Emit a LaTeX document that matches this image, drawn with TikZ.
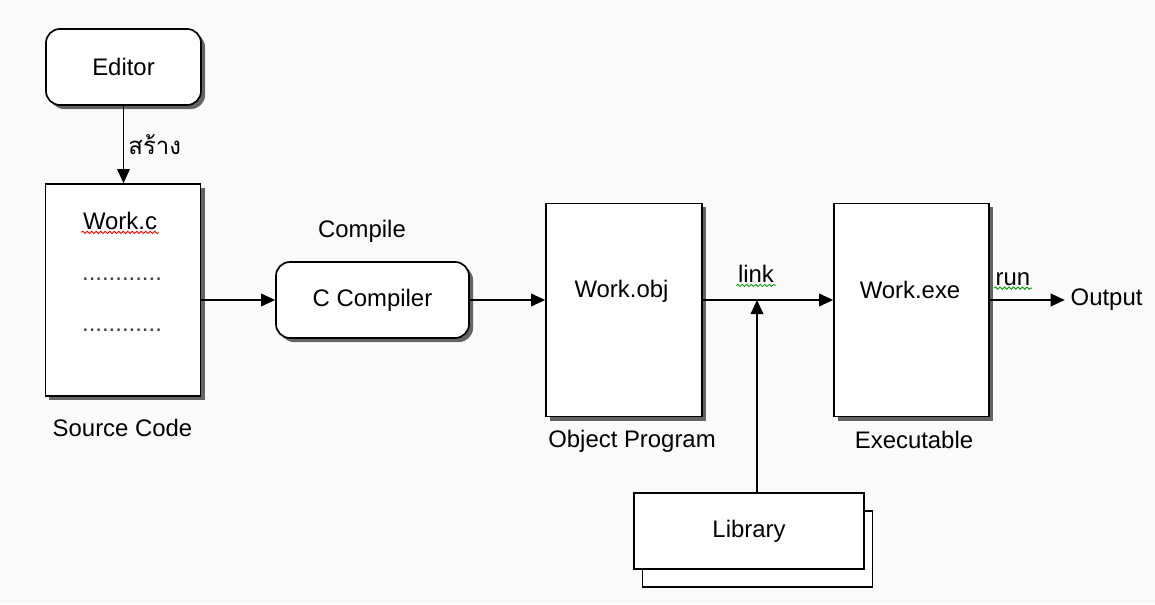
\documentclass[tikz,border=0pt]{standalone}
\usepackage{fontspec}
\setmainfont{Liberation Sans}
\newfontfamily\thaifont[Script=Thai]{Loma}
\usetikzlibrary{positioning,shadows,arrows.meta,decorations.pathmorphing}

\tikzset{
    box/.style={draw, line width=1.2pt, fill=white,
        drop shadow={shadow xshift=0.1cm, shadow yshift=-0.1cm, fill=black!80, opacity=0.75}},
    roundbox/.style={box, rounded corners=0.35cm},
    flatbox/.style={draw, line width=1.2pt, fill=white, minimum width=5.75cm, minimum height=1.9cm},
    lbl/.style={font=\fontsize{17}{20}\selectfont, inner sep=1pt},
    arr/.style={line width=1pt, -{Triangle[length=10pt,width=9pt]}},
    spell/.style={decorate, decoration={snake, amplitude=0.8pt, segment length=3.2pt}, line width=0.6pt},
}

\begin{document}
\begin{tikzpicture}[x=0.025cm, y=-0.025cm]

    %% Compile and link

    \fill[gray!4] (0,0) rectangle (1155,604);
    \useasboundingbox (0,0) rectangle (1155,604);

    % Editor
    \node[roundbox, lbl, minimum width=3.875cm, minimum height=1.9cm] (editor) at (123.5,67) {Editor};

    % Source code
    \node[box, minimum width=3.875cm, minimum height=5.3cm] (src) at (123,290) {};
    \node[lbl] (workc) at (120,221) {Work.c};
    \node[lbl, text=black!75] (dotsa) at (122,279) {............};
    \node[lbl, text=black!75] (dotsb) at (122,330) {............};
    \node[lbl] (srclbl) at (122.5,428) {Source Code};
    \draw[arr] (editor.south) -- (editor.south |- src.north)
        node[midway, right=2pt, lbl] (make) {\thaifont สร้าง};

    % Compiler
    \node[roundbox, lbl, minimum width=4.825cm, minimum height=1.9cm] (comp) at (372.5,300) {C Compiler};
    \node[lbl] (complbl) at (362,231) {Compile};

    % Object program
    \node[box, minimum width=3.9cm, minimum height=5.325cm] (obj) at (624,310) {};
    \node[lbl] (workobj) at (621.5,291) {Work.obj};
    \node[lbl] (objlbl) at (632,441) {Object Program};

    % Executable
    \node[box, minimum width=3.875cm, minimum height=5.325cm] (exe) at (911.5,310) {};
    \node[lbl] (workexe) at (910,290) {Work.exe};
    \node[lbl] (exelbl) at (914,440) {Executable};

    % Library
    \node[flatbox] (libback) at (757.5,549) {};
    \node[flatbox, lbl, inner sep=0pt] (lib) at (749,531) {Library};

    % Output
    \node[lbl, anchor=west] (out) at (1069,300) {Output};

    % Connectors
    \coordinate (linkpt) at (757,300);
    \draw[arr] (src.east |- comp) -- (comp.west);
    \draw[arr] (comp.east) -- (comp.east -| obj.west);
    \draw[arr] (obj.east |- linkpt) -- (exe.west |- linkpt);
    \draw[arr] (lib.north -| linkpt) -- (linkpt);
    \draw[arr, shorten >=3pt] (exe.east |- linkpt) -- (out.west);
    \node[lbl] (linklbl) at (756,274) {link};
    \node[lbl] (runlbl) at (1013,279) {run};

    % Spelling marks
    \draw[red, spell] ([yshift=-2pt]workc.base west) -- ([yshift=-2pt]workc.base east);
    \draw[green!60!black, spell] ([yshift=-2pt]linklbl.base west) -- ([yshift=-2pt]linklbl.base east);
    \draw[green!60!black, spell] ([yshift=-2pt]runlbl.base west) -- ([yshift=-2pt]runlbl.base east);

\end{tikzpicture}
\end{document}
